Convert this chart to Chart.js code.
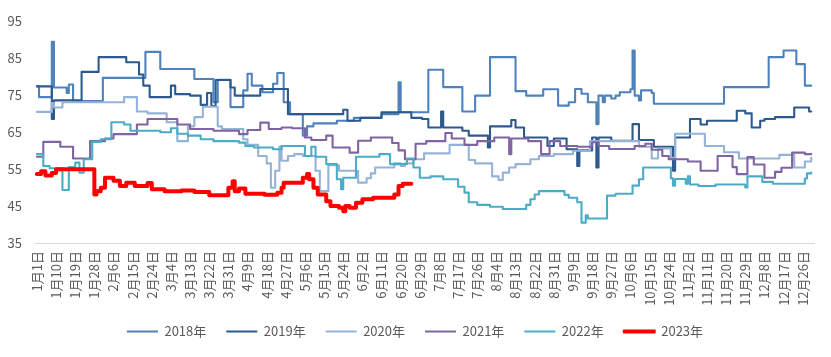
<!DOCTYPE html>
<html>
<head>
<meta charset="utf-8">
<script src="https://cdn.jsdelivr.net/npm/chart.js@4.4.1/dist/chart.umd.min.js"></script>
<style>
html,body{margin:0;padding:0;background:#ffffff;}
#wrap{width:831px;height:357px;}
</style>
</head>
<body>
<div id="wrap"><canvas id="c" width="831" height="357"></canvas></div>
<script>
// ---- category tick labels (every 9th day of the year) ----
const tickLabels = ['1月1日','1月10日','1月19日','1月28日','2月6日','2月15日','2月24日','3月4日','3月13日','3月22日','3月31日','4月9日','4月18日','4月27日','5月6日','5月15日','5月24日','6月2日','6月11日','6月20日','6月29日','7月8日','7月17日','7月26日','8月4日','8月13日','8月22日','8月31日','9月9日','9月18日','9月27日','10月6日','10月15日','10月24日','11月2日','11月11日','11月20日','11月29日','12月8日','12月17日','12月26日'];
const tickDays = [0,9,18,27,36,45,54,63,72,81,90,99,108,117,126,135,144,153,162,171,180,189,198,207,216,225,234,243,252,261,270,279,288,297,306,315,324,333,342,351,360];

const seriesNames = ['2018年','2019年','2020年','2021年','2022年','2023年'];

// ---- series: day-of-year where a new level starts, and that level ----
const d2018 = [0,1,7,8,14,15,17,31,51,58,74,83,85,91,97,99,101,106,111,113,116,119,125,127,130,141,149,162,170,171,184,191,200,206,213,225,230,238,245,250,253,256,259,263,264,266,267,270,272,274,279,280,281,283,284,289,290,323,344,351,357,361,364];
const v2018 = [77.3,74.4,89.3,77,75.5,77.8,73.3,79.6,86.6,82,79.3,73,79.1,71.7,76.2,80.7,77.5,75.7,78,80.9,73,69.8,64,66.5,67.3,68,68.8,69.8,78.4,70.3,81.8,77.1,70.5,74.8,85.2,76,74.8,76.5,72.1,73,76.6,75.3,73,67.1,74.8,73,74.8,74,74.8,75.7,76.5,87,74.8,73.5,76.2,75.5,72.6,77.1,85.2,87,83.3,77.5,77.5];

const d2019 = [0,7,8,21,29,42,48,50,53,63,65,72,77,80,82,84,91,93,105,118,144,146,152,162,176,181,184,190,191,200,203,212,213,223,225,229,240,243,249,254,255,261,263,264,270,280,283,290,299,300,307,312,315,329,333,336,340,342,347,356,363,364];
const v2019 = [77.3,68.5,73.5,81.2,85.2,83.8,80.5,77.5,74.4,77.5,75.2,74.8,72.3,75.5,72,79,77,74.8,76.6,69.8,71,68,68.8,70.3,68.8,68.5,66.2,70.5,66.2,65.3,64,60.8,66.5,68.2,66.2,63.5,61.2,63.2,60.3,55.8,60,63.5,55.4,63.5,62.6,67.1,62.8,61,54.5,63.5,68.5,67,68,70.7,70,66.2,68,68.5,69,71.6,70.5,70.5];

const d2020 = [0,7,8,12,41,47,52,61,66,71,74,78,85,87,97,99,104,108,110,112,114,115,118,121,125,131,133,137,142,151,155,157,159,168,171,173,177,182,194,203,206,214,217,219,222,225,232,236,243,252,260,283,289,292,298,300,314,323,330,349,356,361,364];
const v2020 = [70.4,72.8,71.6,73,74.4,70.5,70,67.6,62.5,66.5,69,71.8,66.5,65.8,63,61.5,58.5,56.5,49.9,54.5,61,57.2,58.5,59,58.5,54.5,49,56,54.5,51.3,52.5,53.8,55.4,56.5,55.8,56.5,57.6,59.2,61.5,57.4,56.5,53,52,54,55.4,56.3,57.6,58.5,59,59.9,62.5,61,57.8,60.5,58,64.5,61.2,59.5,57.8,58.8,55.4,57,58];

const d2021 = [0,3,11,17,25,32,36,47,52,66,72,83,95,99,105,109,115,120,126,129,136,139,147,151,157,167,170,173,178,183,192,195,201,207,215,222,223,231,237,241,246,254,261,264,269,281,286,289,294,297,306,312,320,327,329,334,337,342,347,350,355,361,364];
const v2021 = [58.3,62.3,61,57.8,62.5,63.2,64.4,67,68.5,67,65.8,65.3,64.4,65.5,67.5,65.8,66.2,66,63.5,62.8,64,60.8,59.4,62.6,63.5,62,60,57.6,61.8,62.5,64.7,63.2,61.5,62.5,63.5,59,63.2,62.5,59,62.5,61.2,61,62.2,61.2,60.4,61.2,61.8,60.2,58.5,57.6,57,54.5,58.5,55.5,53.6,58.2,56.2,52.6,54.2,55.3,59.4,59,59];

const d2022 = [0,3,6,12,15,18,20,22,26,30,35,41,44,58,63,66,71,77,83,95,98,102,111,115,126,129,131,136,141,143,144,150,161,166,174,177,180,185,191,198,201,203,207,213,219,230,232,234,236,248,250,254,256,258,259,268,272,280,283,285,298,299,300,305,306,307,311,319,333,334,341,346,361,362,364];
const v2022 = [59,55.8,55.2,49.3,55.5,56.7,54,57.6,62.3,63,67.6,67,65.3,64.9,66,64.5,64,63,62.5,62.1,61.2,60.8,60.3,61.2,58.5,61,58.3,56.3,52.2,49.5,52.6,58.3,59,56.3,57.8,55.4,52.6,53,52.2,50.2,48.6,46,45.3,44.8,44.2,45.3,46.8,48.1,49,48,47.2,46,40.5,42.5,41.6,47.8,48.3,50.5,52.2,55.4,52.5,50.5,52.3,51,53,50.8,50.4,50.8,50,53,51.5,51,52.4,53.8,54];

const d2023 = [0,2,4,7,9,27,28,30,32,36,39,42,46,52,54,60,68,74,81,90,92,93,95,98,107,113,115,116,125,127,128,130,132,136,138,142,144,145,147,150,153,158,168,170,172,176];
const v2023 = [53.6,54.4,53.2,53.9,54.9,48.1,49,49.9,52.6,51.8,50.4,51.3,50.4,51.2,49.5,49,49.2,48.8,47.9,49.9,51.7,49,49.7,48.3,48,48.6,49.9,51.3,52.6,53.6,52.2,49.9,48.1,46.3,45,44.5,43.6,45,44.5,45.9,46.8,47.2,48.1,50.4,51,51];

const yTicks = [35,45,55,65,75,85,95];

// ---- styling ----
const FONT = "'Noto Sans CJK SC','Noto Sans',sans-serif";
const colors = ['#4f81bd','#2c5a8e','#95b3d7','#8064a2','#4bacc6','#ff0000'];
const widths = [2.1,2.1,2.1,2.1,2.1,4];
const allDays = [d2018,d2019,d2020,d2021,d2022,d2023];
const allVals = [v2018,v2019,v2020,v2021,v2022,v2023];

Chart.defaults.font.family = FONT;

const datasets = seriesNames.map((name, i) => ({
  label: name,
  data: allDays[i].map((d, j) => ({x: d, y: allVals[i][j]})),
  borderColor: colors[i],
  backgroundColor: colors[i],
  borderWidth: widths[i],
  pointRadius: 0,
  pointHoverRadius: 0,
  stepped: true,
  fill: false,
  borderJoinStyle: 'round',
  borderCapStyle: 'round',
  order: 5 - i
}));

const shiftLegend = {
  id: 'shiftLegend',
  afterLayout(chart) {
    const l = chart.legend;
    if (l) { l.left += 8; l.right += 8; }
  }
};

new Chart(document.getElementById('c'), {
  type: 'line',
  data: { datasets },
  plugins: [shiftLegend],
  options: {
    responsive: false,
    animation: false,
    devicePixelRatio: 1,
    layout: { padding: { top: 16, right: 17, left: 0, bottom: 9 } },
    plugins: {
      tooltip: { enabled: false },
      legend: {
        position: 'bottom',
        labels: {
          boxWidth: 31,
          boxHeight: 2,
          padding: 20,
          color: '#595959',
          font: { size: 13, family: FONT },
          sort: (a, b) => a.datasetIndex - b.datasetIndex,
          generateLabels: chart => Chart.defaults.plugins.legend.labels.generateLabels(chart).map(l => {
            l.lineWidth = l.datasetIndex === 5 ? 2 : 0;
            l.fillStyle = colors[l.datasetIndex];
            l.strokeStyle = colors[l.datasetIndex];
            return l;
          })
        }
      }
    },
    scales: {
      x: {
        type: 'linear',
        min: -0.9,
        max: 365.3,
        grid: { display: false, drawTicks: false },
        border: { display: true, color: '#d9d9d9', width: 1 },
        ticks: {
          autoSkip: false,
          minRotation: 90,
          maxRotation: 90,
          padding: 8,
          color: '#595959',
          font: { size: 13, family: FONT },
          callback: (v, i) => tickLabels[i]
        },
        afterBuildTicks: s => { s.ticks = tickDays.map(v => ({ value: v })); },
        afterFit: s => { s.height = 62; }
      },
      y: {
        min: 35,
        max: 95,
        grid: { display: false, drawTicks: false },
        border: { display: false },
        ticks: {
          stepSize: 10,
          padding: 13,
          color: '#595959',
          font: { size: 13, family: FONT }
        },
        afterBuildTicks: s => { s.ticks = yTicks.map(v => ({ value: v })); },
        afterFit: s => { s.width = 35; }
      }
    }
  }
});
</script>
</body>
</html>
